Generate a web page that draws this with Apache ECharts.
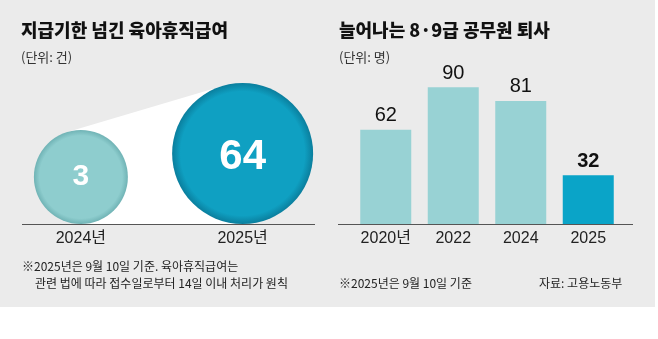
<!DOCTYPE html>
<html>
<head>
<meta charset="utf-8">
<script src="https://cdn.jsdelivr.net/npm/echarts@6/dist/echarts.min.js"></script>
<style>
  html, body { margin: 0; padding: 0; background: #fff; }
  #c { width: 658px; height: 339px; }
</style>
</head>
<body>
<div id="c"></div>
<script>
// 지급기한 넘긴 육아휴직급여 (단위: 건)
const bubbleYears = ['2024년', '2025년'];
const bubbleValues = [3, 64];

// 늘어나는 8·9급 공무원 퇴사 (단위: 명)
const barYears = ['2020년', '2022', '2024', '2025'];
const barValues = [62, 90, 81, 32];

const NUM = "'Liberation Sans', 'Noto Sans CJK KR', sans-serif";
const BASE_Y = 224;                 // shared baseline of both panels
const bubbleRadius = [47, 70.5];    // drawn radius of each bubble
const bubbleFill = [
  ['#8ecdce', '#70b3b5'],
  ['#0fa0c2', '#0a7e9d']
];
const BAR_LIGHT = '#98d2d4';
const BAR_DARK = '#0aa4c8';

const chart = echarts.init(document.getElementById('c'), null, { renderer: 'canvas' });

chart.setOption({
  animation: false,
  backgroundColor: '#ffffff',
  grid: [
    { left: -4.5, width: 328, top: 60, bottom: 339 - BASE_Y },
    { left: 352, right: 36, top: 72, bottom: 339 - BASE_Y }
  ],
  xAxis: [
    {
      gridIndex: 0, type: 'category', data: bubbleYears,
      axisLine: { show: false }, axisTick: { show: false },
      axisLabel: { interval: 0, margin: 7, fontSize: 16, color: '#222', fontFamily: NUM }
    },
    {
      gridIndex: 1, type: 'category', data: barYears,
      axisLine: { show: false }, axisTick: { show: false },
      axisLabel: { interval: 0, margin: 7, fontSize: 16, color: '#222', fontFamily: NUM }
    }
  ],
  yAxis: [
    { gridIndex: 0, type: 'value', min: 0, max: 1, show: false },
    { gridIndex: 1, type: 'value', min: 0, max: 100, show: false }
  ],
  series: [
    {
      type: 'scatter', xAxisIndex: 0, yAxisIndex: 0, z: 5,
      data: bubbleValues.map((v, i) => ({
        value: [i, 0, v],
        symbolSize: bubbleRadius[i] * 2,
        symbolOffset: [0, -bubbleRadius[i]],
        itemStyle: {
          opacity: 1,
          color: {
            type: 'radial', x: 0.5, y: 0.5, r: 0.5,
            colorStops: [
              { offset: 0, color: bubbleFill[i][0] },
              { offset: 0.88, color: bubbleFill[i][0] },
              { offset: 1, color: bubbleFill[i][1] }
            ]
          }
        },
        label: {
          show: true, position: 'inside',
          formatter: p => String(p.value[2]),
          color: '#fff', fontWeight: 'bold',
          fontFamily: "'Liberation Sans', Arial, sans-serif",
          fontSize: i === 0 ? 30 : 42,
          offset: [0, i === 0 ? 0 : 4]
        }
      }))
    },
    {
      type: 'bar', xAxisIndex: 1, yAxisIndex: 1, barWidth: 51,
      data: barValues.map((v, i) => ({
        value: v,
        itemStyle: { color: i === barValues.length - 1 ? BAR_DARK : BAR_LIGHT },
        label: { fontWeight: i === barValues.length - 1 ? 'bold' : 'normal' }
      })),
      label: {
        show: true, position: 'top', distance: 4,
        fontSize: 20, color: '#111', fontFamily: NUM
      }
    }
  ]
});

// Light "zoom" cone between the two bubbles: the region under their upper common tangent
const c1 = chart.convertToPixel({ gridIndex: 0 }, [0, 0]);
const c2 = chart.convertToPixel({ gridIndex: 0 }, [1, 0]);
const r1 = bubbleRadius[0], r2 = bubbleRadius[1];
const C1 = [c1[0], c1[1] - r1], C2 = [c2[0], c2[1] - r2];
const dx = C2[0] - C1[0], dy = C2[1] - C1[1];
const D = Math.hypot(dx, dy);
const ux = dx / D, uy = dy / D;
const th = Math.acos((r2 - r1) / D);
let best = null;
[th, -th].forEach(a => {
  const nx = ux * Math.cos(a) - uy * Math.sin(a);
  const ny = ux * Math.sin(a) + uy * Math.cos(a);
  if (!best || ny > best[1]) best = [nx, ny];
});
const T1 = [C1[0] - r1 * best[0], C1[1] - r1 * best[1]];
const T2 = [C2[0] - r2 * best[0], C2[1] - r2 * best[1]];

const txt = (text, x, y, font, fill) => ({
  type: 'text', x: x, y: y, z: 10,
  style: { text: text, font: font, fill: fill || '#222', verticalAlign: 'middle' }
});

chart.setOption({
  graphic: [
    { type: 'rect', z: -10, shape: { x: 0, y: 0, width: 655, height: 307 }, style: { fill: '#ebebeb' } },
    {
      type: 'polygon', z: 1,
      shape: { points: [T1, T2, C2, [c2[0], BASE_Y], [c1[0], BASE_Y], C1] },
      style: { fill: '#ffffff' }
    },
    { type: 'line', z: 6, shape: { x1: 22, y1: BASE_Y + 0.5, x2: 315, y2: BASE_Y + 0.5 }, style: { stroke: '#555', lineWidth: 1 } },
    { type: 'line', z: 6, shape: { x1: 338, y1: BASE_Y + 0.5, x2: 633, y2: BASE_Y + 0.5 }, style: { stroke: '#555', lineWidth: 1 } },

    txt('지급기한 넘긴 육아휴직급여', 21, 30, "900 18px 'Noto Sans CJK KR'", '#111'),
    txt('(단위: 건)', 21, 57, "13px 'Noto Sans CJK KR'", '#333'),
    txt('늘어나는 8·9급 공무원 퇴사', 339, 30, "900 18px 'Noto Sans CJK KR'", '#111'),
    txt('(단위: 명)', 339, 57, "13px 'Noto Sans CJK KR'", '#333'),

    txt('※2025년은 9월 10일 기준. 육아휴직급여는', 22, 266, "12px 'Noto Sans CJK KR'", '#222'),
    txt('관련 법에 따라 접수일로부터 14일 이내 처리가 원칙', 35, 283, "12px 'Noto Sans CJK KR'", '#222'),
    txt('※2025년은 9월 10일 기준', 339, 283, "12px 'Noto Sans CJK KR'", '#222'),
    txt('자료: 고용노동부', 539, 283, "12px 'Noto Sans CJK KR'", '#222')
  ]
});
</script>
</body>
</html>
